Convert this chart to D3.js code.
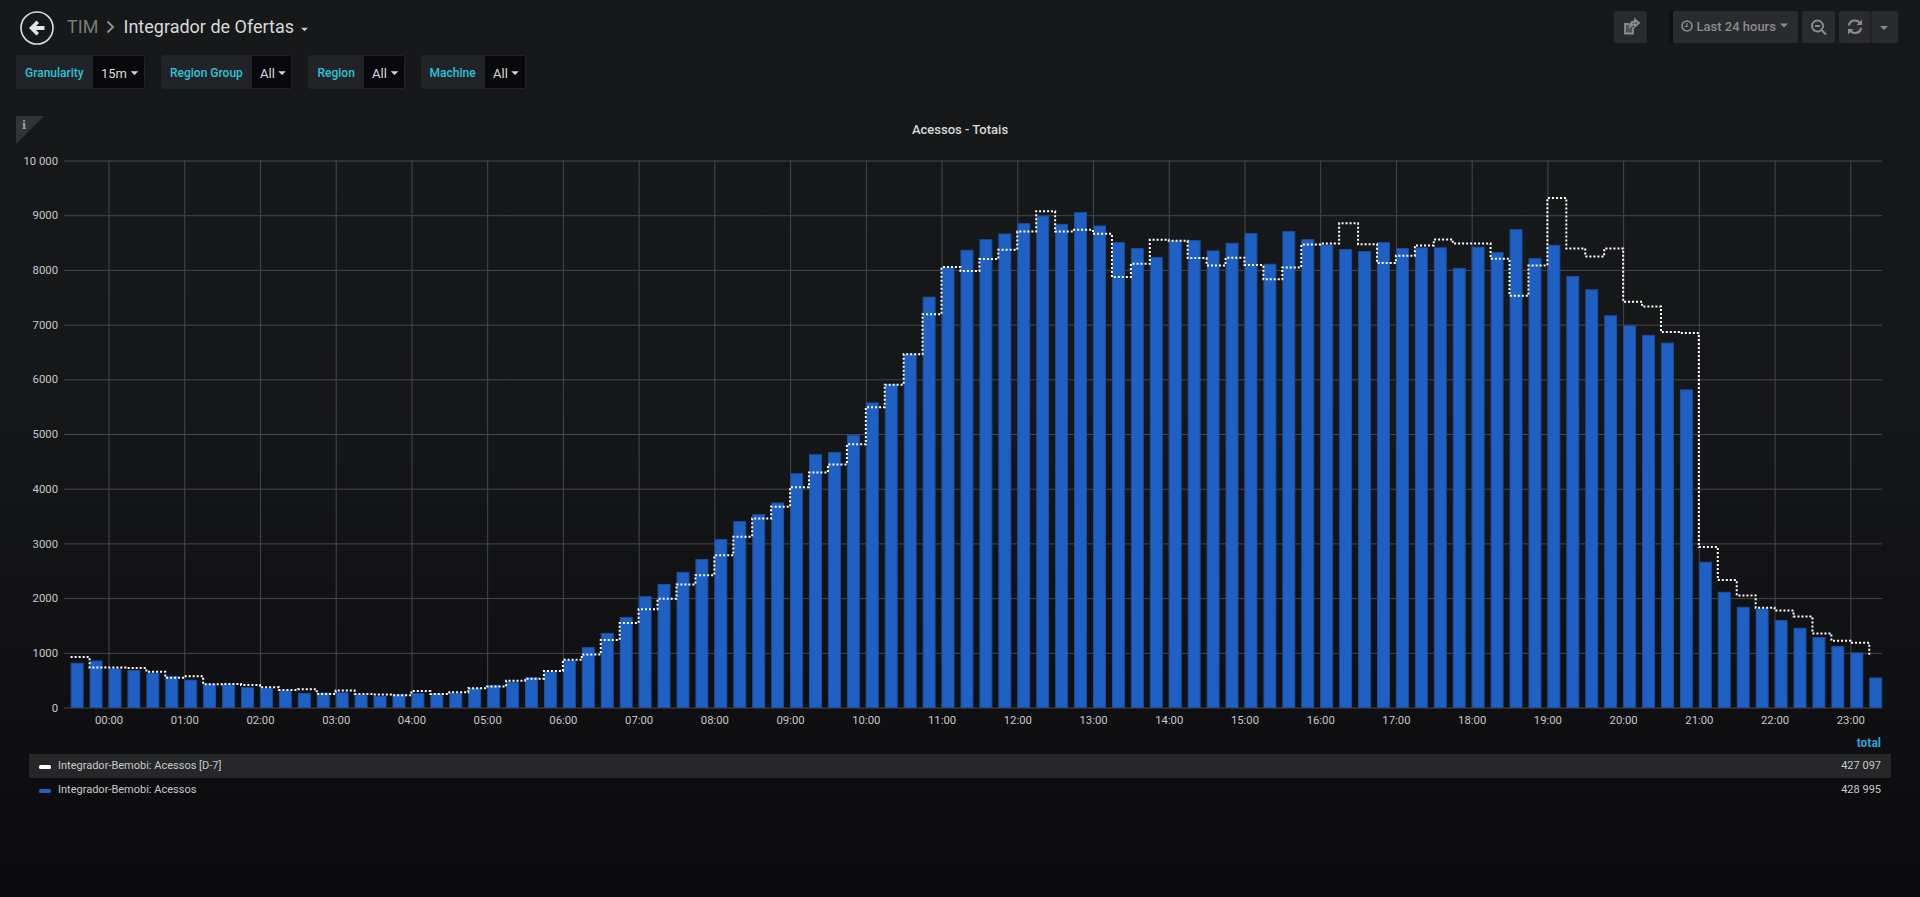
<!DOCTYPE html>
<html>
<head>
<meta charset="utf-8">
<title>Integrador de Ofertas</title>
<script src="https://cdn.jsdelivr.net/npm/d3@7"></script>
<style>
  html, body { margin: 0; padding: 0; background: #0b0b0d; overflow: hidden; }
  svg { display: block; font-family: Roboto, sans-serif; }
  .grid line { stroke: #47484b; stroke-width: 1; }
  .grid path { display: none; }
  .tick text { fill: #c8c9ca; font-size: 11.3px; font-family: Roboto, sans-serif; }
</style>
</head>
<body>
<svg id="chart" width="1920" height="897"></svg>
<script>
// one value every 15 minutes, first slot is 23:30 of the day before
const firstSlotMinute = -30;
const slotMinutes = 15;

const acessos = [
  818, 860, 715, 685, 636, 575, 509, 436, 424, 370, 358, 315,
  267, 273, 279, 242, 212, 242, 267, 260, 267, 358, 412, 473,
  552, 660, 867, 1103, 1364, 1655, 2035, 2260, 2479, 2716, 3080, 3408,
  3536, 3748, 4283, 4630, 4672, 4982, 5577, 5914, 6470, 7510, 8052, 8368,
  8562, 8666, 8854, 8994, 8842, 9055, 8812, 8508, 8398, 8234, 8538, 8544,
  8356, 8495, 8672, 8112, 8708, 8562, 8465, 8380, 8343, 8508, 8398, 8412,
  8412, 8036, 8424, 8325, 8745, 8216, 8459, 7888, 7645, 7170, 6988, 6812,
  6672, 5815, 2665, 2116, 1841, 1811, 1598, 1457, 1287, 1122, 1006, 549
];

const acessosD7 = [
  921, 733, 733, 721, 655, 545, 570, 424, 430, 412, 370, 321,
  333, 248, 309, 248, 236, 224, 303, 248, 279, 352, 382, 491,
  527, 667, 873, 970, 1236, 1545, 1798, 1987, 2248, 2418, 2782, 3123,
  3457, 3669, 4028, 4295, 4441, 4812, 5490, 5900, 6457, 7190, 8052, 7979,
  8198, 8368, 8702, 9073, 8702, 8733, 8660, 7869, 8112, 8550, 8532, 8216,
  8082, 8222, 8088, 7827, 8046, 8465, 8483, 8854, 8471, 8125, 8258, 8448,
  8556, 8483, 8483, 8204, 7527, 8079, 9316, 8392, 8246, 8392, 7416, 7331,
  6863, 6845, 2933, 2329, 2049, 1823, 1774, 1665, 1354, 1219, 1183, 945
];

const hourLabels = ["00:00", "01:00", "02:00", "03:00", "04:00", "05:00", "06:00", "07:00",
  "08:00", "09:00", "10:00", "11:00", "12:00", "13:00", "14:00", "15:00", "16:00", "17:00",
  "18:00", "19:00", "20:00", "21:00", "22:00", "23:00"];
const yTicks = [0, 1000, 2000, 3000, 4000, 5000, 6000, 7000, 8000, 9000, 10000];

const variableNames = ["Granularity", "Region Group", "Region", "Machine"];
const variableValues = ["15m", "All", "All", "All"];
const legendNames = ["Integrador-Bemobi: Acessos [D-7]", "Integrador-Bemobi: Acessos"];
const legendTotals = ["427 097", "428 995"];

const blue = "#1f60c4";
const svg = d3.select("#chart");

// page background
const grad = svg.append("defs").append("linearGradient")
  .attr("id", "pageBg").attr("x1", 0).attr("x2", 0).attr("y1", 0).attr("y2", 1);
grad.append("stop").attr("offset", "0%").attr("stop-color", "#17181a");
grad.append("stop").attr("offset", "45%").attr("stop-color", "#161719");
grad.append("stop").attr("offset", "100%").attr("stop-color", "#0b0b0d");
svg.append("rect").attr("width", 1920).attr("height", 897).attr("fill", "url(#pageBg)");

function caret(g, cx, cy, w, color) {
  g.append("path")
    .attr("d", `M${cx - w / 2},${cy - w / 4}L${cx + w / 2},${cy - w / 4}L${cx},${cy + w / 4}Z`)
    .attr("fill", color);
}

// --- top bar
const nav = svg.append("g");
nav.append("circle").attr("cx", 37).attr("cy", 28).attr("r", 16)
  .attr("fill", "none").attr("stroke", "#d8d9da").attr("stroke-width", 1.7);
nav.append("path")
  .attr("d", "M29,28L36.5,20.5L39,23L36,26H44.5V30H36L39,33L36.5,35.5Z")
  .attr("fill", "#e4e5e6");
nav.append("text").attr("x", 67).attr("y", 33).attr("font-size", 18).attr("fill", "#7b7b7b").text("TIM");
nav.append("path").attr("d", "M107.5,21.5L113,27L107.5,32.5")
  .attr("fill", "none").attr("stroke", "#8e8e8e").attr("stroke-width", 2);
nav.append("text").attr("x", 123.5).attr("y", 33).attr("font-size", 18).attr("fill", "#d8d9da").text("Integrador de Ofertas");
caret(nav, 304.5, 29.5, 7, "#c8c9ca");

// right side buttons
const buttons = svg.append("g");
const buttonBoxes = [[1614, 33], [1673, 125], [1802, 33], [1839, 32], [1871, 27]];
buttons.append("rect").attr("x", 1669).attr("y", 11).attr("width", 5).attr("height", 32).attr("fill", "#0f1012");
buttonBoxes.forEach(b => {
  buttons.append("rect").attr("x", b[0]).attr("y", 11).attr("width", b[1]).attr("height", 32)
    .attr("rx", 2).attr("fill", "#2a2b2e");
});
buttons.append("line").attr("x1", 1871).attr("x2", 1871).attr("y1", 11).attr("y2", 43).attr("stroke", "#1e1f22");
const iconCol = "#8a8b8d";
buttons.append("path")
  .attr("d", "M1633,27V33.5H1625V24H1629M1630,26.5C1630,23 1632,21.5 1635,21.5V19.5L1639,23L1635,26.5V24.5C1633,24.5 1631,25 1630,26.5Z")
  .attr("fill", iconCol).attr("fill-opacity", 0.4).attr("stroke", iconCol).attr("stroke-width", 1.8);
buttons.append("circle").attr("cx", 1687).attr("cy", 26).attr("r", 5).attr("fill", "none").attr("stroke", iconCol).attr("stroke-width", 1.6);
buttons.append("path").attr("d", "M1687,23V26.5H1684.5").attr("fill", "none").attr("stroke", iconCol).attr("stroke-width", 1.2);
buttons.append("text").attr("x", 1696.5).attr("y", 31).attr("font-size", 13).attr("font-weight", 500).attr("fill", iconCol).text("Last 24 hours");
caret(buttons, 1784, 25.5, 8, iconCol);
buttons.append("circle").attr("cx", 1817.5).attr("cy", 26).attr("r", 5.5).attr("fill", "none").attr("stroke", iconCol).attr("stroke-width", 2);
buttons.append("path").attr("d", "M1815,26H1820M1821.5,30L1826,34.5").attr("fill", "none").attr("stroke", iconCol).attr("stroke-width", 2);
buttons.append("path")
  .attr("d", "M1849,25.5C1849.5,22 1852,20.5 1855,20.5C1857,20.5 1858.5,21.3 1859.5,22.5M1861,28C1860.5,31 1858,33 1855,33C1853,33 1851.5,32.2 1850.5,31")
  .attr("fill", "none").attr("stroke", iconCol).attr("stroke-width", 2.2);
buttons.append("path").attr("d", "M1862,19.5V25H1856.5ZM1848,34.5V29H1853.5Z").attr("fill", iconCol);
caret(buttons, 1884, 28, 8, iconCol);

// --- template variables
const varBoxes = [
  { x: 16, split: 93, end: 145, textX: 25, valX: 101, caretX: 134.5 },
  { x: 161, split: 252, end: 292, textX: 170, valX: 260, caretX: 282 },
  { x: 308, split: 364, end: 405, textX: 317.5, valX: 372, caretX: 394.5 },
  { x: 421, split: 485, end: 526, textX: 429.5, valX: 493, caretX: 515 }
];
const vars = svg.append("g");
variableNames.forEach((name, i) => {
  const b = varBoxes[i];
  vars.append("rect").attr("x", b.x).attr("y", 55).attr("width", b.end - b.x).attr("height", 34)
    .attr("rx", 3).attr("fill", "#222327");
  vars.append("rect").attr("x", b.split).attr("y", 56).attr("width", b.end - b.split - 1).attr("height", 32)
    .attr("fill", "#09090b");
  vars.append("text").attr("x", b.textX).attr("y", 77).attr("font-size", 12).attr("font-weight", 500)
    .attr("fill", "#2bc4d8").text(name);
  vars.append("text").attr("x", b.valX).attr("y", 78).attr("font-size", 13)
    .attr("fill", "#d8d9da").text(variableValues[i]);
  caret(vars, b.caretX, 73, 7.5, "#d8d9da");
});

// --- panel
const corner = svg.append("g");
corner.append("path").attr("d", "M16,116H44L16,144Z").attr("fill", "#333438");
corner.append("text").attr("x", 24).attr("y", 129).attr("text-anchor", "middle")
  .attr("font-size", 11).attr("font-weight", 700).attr("font-family", "'DejaVu Serif', serif")
  .attr("fill", "#a0a1a3").text("i");

svg.append("text").attr("x", 960).attr("y", 134).attr("text-anchor", "middle")
  .attr("font-size", 13).attr("font-weight", 500).attr("fill", "#d8d9da").text("Acessos - Totais");

const plotLeft = 64, plotRight = 1882, plotTop = 160.5, plotBottom = 707.5;

const x = d3.scaleLinear().domain([-35.26, 1405.1]).range([plotLeft, plotRight]);
const y = d3.scaleLinear().domain([0, 10000]).range([plotBottom, plotTop]);

const hourTicks = hourLabels.map((d, i) => i * 60);

// vertical grid + hour labels
svg.append("g")
  .attr("class", "grid")
  .attr("transform", `translate(0,${plotBottom})`)
  .call(d3.axisBottom(x)
    .tickValues(hourTicks)
    .tickSize(-(plotBottom - plotTop))
    .tickPadding(8)
    .tickFormat((d, i) => hourLabels[i]));

// horizontal grid + counts
svg.append("g")
  .attr("class", "grid")
  .attr("transform", `translate(${plotLeft},0)`)
  .call(d3.axisLeft(y)
    .tickValues(yTicks)
    .tickSize(-(plotRight - plotLeft))
    .tickPadding(6)
    .tickFormat(d => d >= 10000 ? d3.format(",")(d).replace(",", " ") : d));

const slotX = (d, i) => x(firstSlotMinute + i * slotMinutes);
const barWidth = (x(slotMinutes) - x(0)) * 0.685;

svg.append("g")
  .selectAll("rect")
  .data(acessos)
  .enter()
  .append("rect")
  .attr("x", (d, i) => slotX(d, i) + 0.5)
  .attr("y", d => y(d) + 0.5)
  .attr("width", barWidth - 1)
  .attr("height", d => y(0) - y(d) - 0.5)
  .attr("fill", blue)
  .attr("stroke", "#1c4f9e")
  .attr("stroke-width", 1);

const line = d3.line()
  .x(slotX)
  .y(d => y(d))
  .curve(d3.curveStepAfter);

svg.append("path")
  .datum(acessosD7)
  .attr("d", line)
  .attr("fill", "none")
  .attr("stroke", "#ffffff")
  .attr("stroke-width", 2)
  .attr("stroke-dasharray", "2 2");

// --- legend
const legend = svg.append("g");
legend.append("text").attr("x", 1881).attr("y", 747).attr("text-anchor", "end")
  .attr("font-size", 12).attr("font-weight", 700).attr("fill", "#33a2d5").text("total");
legend.append("rect").attr("x", 29).attr("y", 754).attr("width", 1862).attr("height", 24).attr("fill", "#262729");
const legendColors = ["#ffffff", blue];
legendNames.forEach((name, i) => {
  const rowY = 769 + i * 24;
  legend.append("rect").attr("x", 39).attr("y", rowY - 4).attr("width", 12).attr("height", 4)
    .attr("rx", 1.5).attr("fill", legendColors[i]);
  legend.append("text").attr("x", 58).attr("y", rowY).attr("font-size", 11)
    .attr("fill", "#c8c9ca").text(name);
  legend.append("text").attr("x", 1881).attr("y", rowY).attr("text-anchor", "end").attr("font-size", 11)
    .attr("fill", "#c8c9ca").text(legendTotals[i]);
});
</script>
</body>
</html>
